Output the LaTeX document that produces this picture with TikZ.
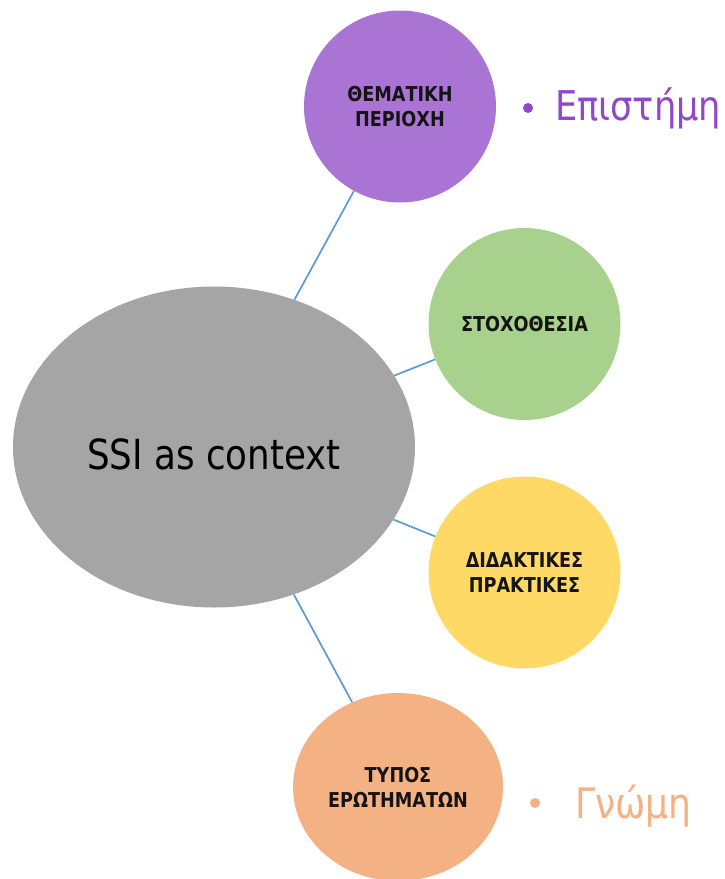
\documentclass[tikz,border=0pt]{standalone}
\usepackage{fontspec}
\setmainfont{DejaVu Sans}[FakeStretch=0.86]
\usetikzlibrary{shapes.geometric}
\definecolor{ssigray}{RGB}{165,165,165}
\definecolor{cpurple}{RGB}{169,116,212}
\definecolor{cgreen}{RGB}{169,209,142}
\definecolor{cyellow}{RGB}{255,217,102}
\definecolor{corange}{RGB}{244,177,131}
\definecolor{tpurple}{RGB}{145,72,200}
\definecolor{torange}{RGB}{244,177,131}
\definecolor{linkblue}{RGB}{91,155,213}
\tikzset{
  topic/.style={circle, inner sep=0pt, minimum size=192pt, align=center,
    font=\fontsize{20.5}{25}\selectfont\bfseries, text=black!92},
  link/.style={draw=linkblue, line width=1.7pt},
  bulletdot/.style={circle, inner sep=0pt, minimum size=10pt},
  sidetext/.style={anchor=base west, inner sep=0pt, font=\fontsize{41}{45}\selectfont}
}
\begin{document}
\begin{tikzpicture}[x=1pt,y=-1pt]
  \useasboundingbox (0,0) rectangle (724,879);

  % central theme
  \node[ellipse, fill=ssigray, minimum width=402pt, minimum height=321pt, inner sep=0pt,
        text height=44pt, text depth=0pt,
        font=\fontsize{41.5}{46}\selectfont] (ssi) at (214,447) {SSI as context};

  % surrounding topics
  \node[topic, fill=cpurple] (them) at (400,106.5) {ΘΕΜΑΤΙΚΗ\\ΠΕΡΙΟΧΗ};
  \node[topic, fill=cgreen] (goal) at (524.5,324) {ΣΤΟΧΟΘΕΣΙΑ};
  \node[topic, fill=cyellow] (prac) at (524.5,572.5) {ΔΙΔΑΚΤΙΚΕΣ\\ΠΡΑΚΤΙΚΕΣ};
  \node[ellipse, fill=corange, inner sep=0pt, minimum width=210pt, minimum height=188pt,
        align=center, font=\fontsize{20.5}{25}\selectfont\bfseries, text=black!92]
        (ques) at (398,787) {ΤΥΠΟΣ\\ΕΡΩΤΗΜΑΤΩΝ};

  % connectors
  \draw[link] (ssi) -- (them);
  \draw[link] (ssi) -- (goal);
  \draw[link] (ssi) -- (prac);
  \draw[link] (ssi) -- (ques);

  % side notes
  \node[bulletdot, fill=tpurple] (b1) at (528,108) {};
  \node[sidetext, text=tpurple] (n1) at (555,120) {Επιστήμη};
  \node[bulletdot, fill=torange] (b2) at (535,803) {};
  \node[sidetext, text=torange, font=\fontsize{42}{46}\selectfont] (n2) at (575,818) {Γνώμη};
\end{tikzpicture}
\end{document}
